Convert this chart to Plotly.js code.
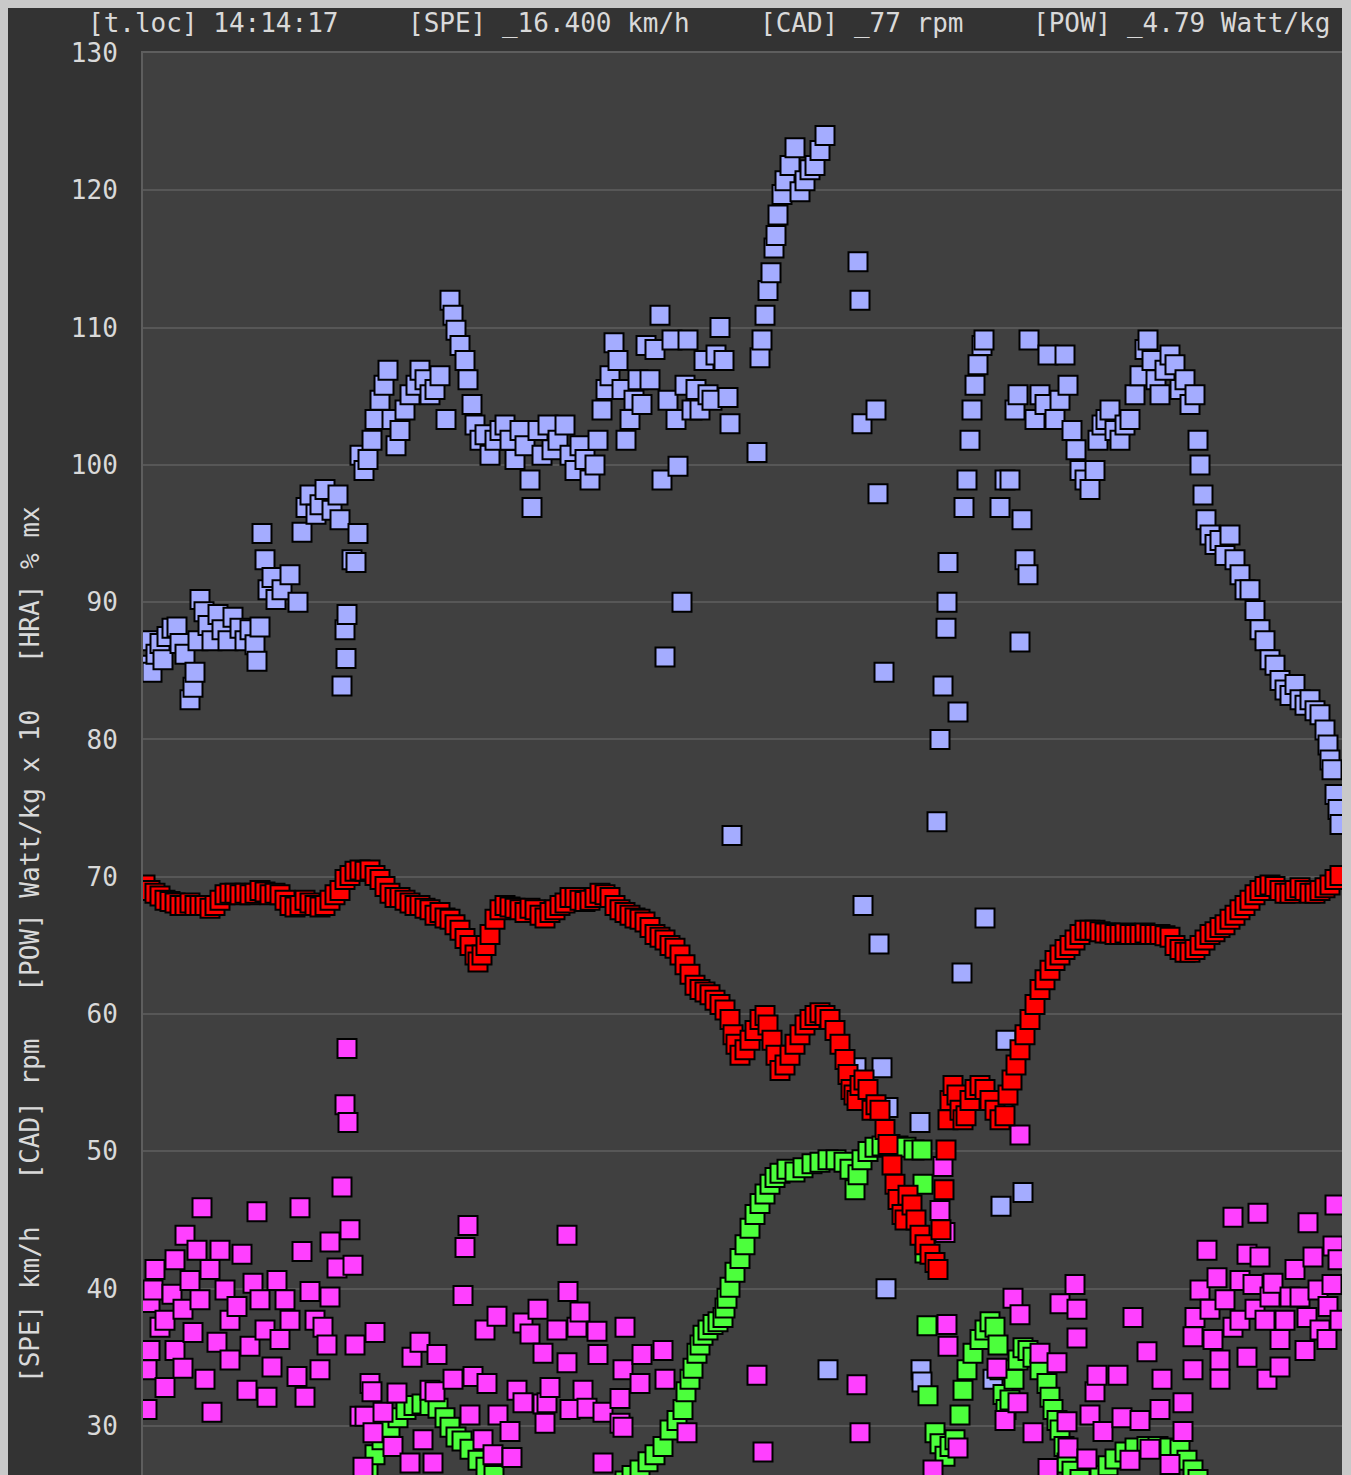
<!DOCTYPE html>
<html><head><meta charset="utf-8">
<script src="https://cdn.plot.ly/plotly-3.0.1.min.js"></script>
<style>
html,body{margin:0;padding:0;background:#c9c9c9;width:1351px;height:1475px;overflow:hidden;}
#chart{position:absolute;left:8px;top:8px;width:1334px;height:1467px;}
</style></head><body><div id="chart"></div>
<script>
// time in seconds (arbitrary origin), values in plotted units
const yTicks = [30,40,50,60,70,80,90,100,110,120,130];
const yTickText = ['30','40','50','60','70','80','90','100','110','120','130'];

const headerTexts = ['[t.loc] 14:14:17','[SPE] _16.400 km/h','[CAD] _77 rpm','[POW] _4.79 Watt/kg'];
const yTitleParts = ['[SPE] km/h','[CAD] rpm','[POW] Watt/kg x 10','[HRA] % mx'];

// HRA  (% of max heart rate)
const hraTime = [2,5,9,13,17,20,24,29,34,37,42,47,50,52,55,57,61,65,69,75,79,85,90,97,102,107,112,114,117,119,122,125,129,133,139,147,155,159,163,167,173,177,182,189,195,197,199,202,203,204,209,213,215,217,221,225,229,232,237,241,245,249,253,257,262,267,273,277,282,287,292,297,303,307,310,313,317,322,325,329,332,337,342,347,352,357,362,367,372,377,382,387,389,395,399,405,409,415,422,427,432,437,442,447,452,455,459,463,467,471,475,479,483,487,491,495,499,503,507,512,517,519,522,525,529,533,535,539,542,545,549,553,557,561,565,569,573,577,581,585,587,589,614,617,619,622,625,628,631,633,635,639,642,647,652,657,662,667,672,677,682,685,713,715,717,719,720,733,735,736,739,741,743,745,777,778,779,794,797,800,803,804,805,814,815,819,821,824,827,829,832,835,839,841,842,850,857,858,860,862,863,867,872,875,877,879,880,882,885,886,892,897,902,905,912,917,922,925,929,933,937,942,947,952,955,959,963,967,972,977,982,987,992,997,1002,1005,1009,1013,1017,1022,1027,1032,1037,1042,1047,1052,1055,1057,1060,1063,1067,1072,1077,1082,1087,1092,1097,1102,1107,1112,1117,1122,1127,1132,1137,1142,1147,1152,1157,1162,1167,1172,1177,1182,1185,1187,1189,1192,1195,1197];
const hraValue = [85.4,87.2,84.9,86.2,87.0,85.8,87.5,88.1,88.2,87.0,86.2,82.9,83.8,84.9,87.2,90.2,89.3,88.3,87.2,89.1,88.0,87.2,88.9,88.1,87.2,88.0,86.9,85.7,88.2,95.0,93.1,90.9,91.8,90.2,90.9,92.0,90.0,95.1,96.9,97.8,96.4,97.1,98.2,96.7,97.8,96.0,83.9,88.0,85.9,89.1,93.1,92.9,95.0,100.7,99.6,100.4,101.8,103.3,104.7,105.8,106.9,103.3,101.4,102.5,104.0,105.1,105.8,106.9,106.2,105.1,105.5,106.5,103.3,112.0,110.9,109.8,108.7,107.6,106.2,104.4,102.9,101.8,102.2,100.7,101.8,102.5,102.9,101.8,100.4,102.5,101.4,98.9,96.9,102.5,100.7,102.9,101.1,101.8,102.9,100.7,99.6,101.4,100.4,98.9,100.0,101.8,104.0,105.5,106.5,108.9,107.6,105.5,101.8,103.3,104.7,106.2,104.4,108.7,106.2,108.4,110.9,98.9,86.0,104.7,109.1,103.3,99.9,90.0,105.8,109.1,104.0,105.5,104.0,107.6,105.1,104.7,108.0,110.0,107.6,104.9,103.0,73.0,100.9,107.8,109.1,110.9,112.7,114.0,115.8,116.7,118.2,119.7,120.7,121.8,123.1,119.9,120.7,121.5,121.8,122.9,124.0,34.1,56.1,114.8,112.0,103.0,67.9,104.0,97.9,65.1,56.1,84.9,40.0,53.2,52.1,34.1,33.2,74.0,80.0,83.9,88.1,90.0,92.9,53.8,82.0,63.0,96.9,98.9,101.8,104.0,105.8,107.3,108.7,109.1,67.0,33.4,96.9,46.0,53.5,98.9,58.1,98.9,104.0,105.1,87.1,96.0,47.0,93.1,92.0,109.1,103.3,105.1,104.4,108.0,103.3,104.7,108.0,105.8,102.5,101.1,99.6,98.9,98.2,99.6,101.8,102.9,103.3,104.0,102.5,101.8,102.9,103.3,105.1,106.5,108.4,109.1,107.6,106.2,105.1,106.9,108.0,107.3,105.5,106.2,104.4,105.1,101.8,100.0,97.8,96.0,94.9,94.2,94.5,93.4,94.9,93.1,92.0,90.9,90.9,89.4,88.0,87.2,85.8,85.4,84.3,83.6,83.2,84.0,82.9,82.5,82.9,82.1,81.8,80.7,79.6,78.5,77.8,76.0,74.9,73.8];

// SPE (km/h)
const speTime = [225,232,239,247,255,263,271,279,287,295,302,307,313,319,327,335,343,351,357,482,489,497,505,512,520,527,534,540,543,547,550,554,557,560,565,570,575,580,582,584,587,592,597,602,607,612,617,622,627,632,637,644,652,660,669,677,685,693,701,707,712,715,719,725,732,739,747,755,763,771,779,780,782,784,785,792,797,802,807,812,817,820,824,830,837,842,847,852,855,857,860,863,867,871,875,880,885,890,897,904,907,910,914,917,921,924,929,937,957,965,972,982,992,1004,1015,1027,1037,1044,1050,1055];
const speValue = [26.8,27.9,29.0,29.9,30.6,31.2,31.5,31.6,31.5,31.3,30.6,29.9,29.2,28.9,28.3,27.5,27.0,26.4,25.4,26.0,26.4,26.8,27.4,27.9,28.5,29.7,30.4,31.2,32.5,33.4,34.2,35.3,35.9,36.6,37.0,37.4,37.6,37.9,38.6,39.3,40.1,41.2,42.2,43.2,44.4,45.4,46.2,46.9,47.6,48.1,48.4,48.7,48.5,48.8,49.1,49.2,49.4,49.4,49.2,48.7,47.2,48.3,49.4,50.0,50.3,50.4,50.5,50.4,50.3,50.1,50.1,47.6,42.6,37.3,32.2,29.5,28.7,27.8,28.5,29.0,30.8,32.6,34.1,35.3,36.3,37.0,37.6,37.2,35.9,34.1,32.3,31.2,31.9,33.4,34.8,35.7,35.5,35.0,34.1,33.1,32.1,31.2,30.4,29.7,28.5,27.3,26.7,26.1,26.4,27.1,27.6,28.1,28.4,28.5,28.5,28.4,28.3,27.5,26.8,26.1];

// CAD (rpm)
const cadTime = [4,4,7,7,10,12,17,22,22,29,32,32,40,40,42,47,50,54,57,59,62,67,69,74,77,82,87,87,94,99,104,107,110,114,117,122,124,129,134,137,142,147,154,157,159,162,167,172,177,180,184,187,187,194,199,202,204,205,207,210,212,217,220,222,227,229,230,232,240,250,254,267,269,277,280,287,290,292,294,310,320,322,325,327,330,340,342,344,350,354,355,367,369,374,380,380,387,395,400,400,402,404,407,414,424,424,425,427,434,437,440,444,454,455,460,460,477,477,480,480,482,497,499,520,522,544,614,620,714,717,790,797,800,802,804,805,815,854,862,870,875,877,877,890,897,905,914,917,924,925,932,934,934,944,947,952,954,960,975,979,987,990,997,1004,1007,1017,1019,1027,1040,1040,1050,1050,1052,1057,1064,1067,1070,1074,1077,1077,1082,1090,1090,1097,1097,1104,1104,1110,1112,1115,1117,1122,1124,1127,1130,1137,1137,1142,1147,1152,1157,1162,1164,1165,1170,1175,1177,1184,1185,1189,1190,1192,1195,1197];
const cadValue = [31.2,34.1,39.0,35.5,39.9,41.4,37.2,32.8,37.7,39.6,42.1,35.5,38.5,34.2,43.9,40.6,36.8,42.8,39.2,45.9,33.4,41.4,31.0,36.1,42.8,39.9,37.7,34.8,38.7,42.5,32.6,35.8,40.4,45.6,39.2,37.0,32.1,34.3,40.6,36.3,39.2,37.7,33.6,45.9,42.7,32.1,39.8,37.7,34.1,37.2,35.9,43.4,39.4,41.5,47.4,53.4,57.5,52.1,44.3,41.7,35.9,30.7,27.0,30.7,33.1,32.5,29.5,36.8,31.0,28.5,32.4,27.3,35.0,36.1,29.0,32.6,27.3,32.5,35.2,33.4,39.5,43.0,44.6,30.8,33.6,29.0,37.0,33.1,27.9,38.0,30.8,29.6,27.7,32.6,37.5,31.7,36.7,38.5,35.3,31.6,30.2,31.7,32.8,37.0,43.9,34.6,39.8,31.2,37.2,38.3,32.6,31.3,36.9,35.2,31.0,27.3,32.0,30.2,34.1,29.9,37.2,33.1,35.2,35.5,33.4,29.5,33.7,28.1,33.0,29.5,26.8,45.7,48.9,44.1,37.4,35.8,28.4,34.2,30.4,39.3,31.7,51.2,38.1,29.5,35.3,26.9,34.6,38.9,30.3,28.4,40.3,38.5,36.4,27.6,30.8,32.5,33.7,29.6,33.7,30.6,27.5,37.9,30.4,35.4,28.3,31.2,33.4,27.2,31.7,29.6,36.5,34.1,37.9,39.9,42.8,38.5,36.3,40.8,34.8,33.4,39.2,45.2,37.2,40.6,37.7,42.5,35.0,40.3,38.5,45.5,42.3,37.7,33.4,39.4,40.4,36.3,34.3,37.7,39.4,41.4,39.4,35.5,37.9,44.8,42.3,39.9,37.0,36.3,38.7,40.3,43.1,46.1,42.1,37.7];

// POW (Watt/kg x 10)
const powTime = [2,7,12,17,22,27,32,37,42,47,52,57,62,67,72,77,82,87,92,97,102,107,112,117,122,127,132,137,142,147,152,157,162,167,172,177,182,187,192,197,202,207,212,217,222,227,232,237,242,247,252,257,262,267,272,277,282,287,292,297,302,307,312,317,322,327,332,335,339,343,347,352,357,362,367,372,377,382,387,392,397,402,407,412,417,422,427,432,437,442,447,452,457,462,467,472,477,482,487,492,497,502,507,512,517,522,527,532,537,542,547,552,557,562,567,572,577,582,587,590,593,597,602,607,612,617,622,625,629,633,637,642,647,652,657,662,667,672,677,682,687,692,697,702,705,708,711,714,717,721,725,729,733,737,742,745,749,752,755,759,762,765,769,773,777,782,787,792,795,798,801,803,805,807,810,814,817,820,823,827,832,837,842,847,852,857,862,865,869,873,877,882,887,892,897,902,907,912,917,922,927,932,937,942,947,952,957,962,967,972,977,982,987,992,997,1002,1007,1012,1017,1022,1027,1032,1037,1042,1047,1052,1057,1062,1067,1072,1077,1082,1087,1092,1097,1102,1107,1112,1117,1122,1127,1132,1137,1142,1147,1152,1157,1162,1167,1172,1177,1182,1187,1192,1197];
const powValue = [69.4,69.0,68.8,68.6,68.3,68.2,68.1,67.9,67.9,68.1,67.9,67.9,67.9,67.7,67.9,68.3,68.7,68.8,68.8,68.7,68.8,68.7,68.8,69.0,68.9,68.7,68.8,68.7,68.3,67.9,67.8,67.9,68.3,68.1,67.9,67.8,67.9,68.3,68.7,69.0,69.8,70.1,70.4,70.5,70.4,70.5,70.1,69.8,69.3,68.8,68.5,68.5,68.3,68.1,67.9,67.9,67.7,67.6,67.2,67.4,67.0,66.9,66.5,66.1,65.5,65.0,64.3,63.8,64.3,65.0,65.8,66.9,67.6,67.9,67.8,67.7,67.6,67.4,67.7,67.6,67.2,67.0,67.4,67.6,67.9,68.1,68.5,68.5,68.3,68.2,68.3,68.5,68.8,68.7,68.5,67.9,67.6,67.4,67.2,67.0,66.9,66.7,66.3,65.8,65.6,65.4,65.0,64.8,64.3,63.6,62.9,62.1,61.8,61.6,61.4,61.0,60.7,60.3,59.6,58.5,57.8,57.0,57.4,58.1,58.8,59.6,59.9,59.2,58.1,57.0,55.9,56.3,57.0,57.8,58.5,59.2,59.6,59.9,60.1,59.9,59.6,58.8,57.8,56.7,55.6,54.5,54.1,53.7,54.8,55.2,54.5,53.0,53.4,53.0,51.6,50.5,49.0,47.6,46.5,45.4,45.0,46.8,46.1,45.0,43.9,43.2,42.5,41.9,41.4,44.3,47.2,50.1,52.3,53.7,54.8,54.1,53.0,52.3,52.6,53.7,54.5,54.8,54.5,53.7,53.0,52.3,52.6,54.1,55.2,56.3,57.4,58.5,59.6,60.7,61.8,62.5,63.2,63.9,64.3,64.7,65.0,65.4,65.8,66.1,66.1,66.1,66.0,65.9,65.9,65.8,65.8,65.9,65.8,65.8,65.8,65.9,65.8,65.8,65.8,65.7,65.6,65.0,64.7,64.5,64.5,64.7,65.0,65.4,65.8,66.0,66.3,66.5,66.9,67.2,67.6,67.9,68.3,68.7,69.0,69.3,69.4,69.3,69.0,68.8,68.8,69.0,69.2,69.0,68.8,68.8,69.0,69.2,69.4,69.8,70.1];

const colors = {hra:'#a4acff', spe:'#4cff3c', cad:'#ff40ff', pow:'#ff0000'};

function ordered(t, v){
  const idx = t.map((_, i) => i).sort((a, b) => (t[a] - t[b]) || (a - b));
  return {x: idx.map(i => t[i]), y: idx.map(i => v[i])};
}
function trace(name, t, v, color){
  const s = ordered(t, v);
  return {type:'scatter', mode:'markers', name:name, x:s.x, y:s.y, cliponaxis:true, hoverinfo:'skip',
    marker:{symbol:'square', size:19, color:color, line:{color:'#000000', width:2}}};
}

const data = [
  trace('HRA', hraTime, hraValue, colors.hra),
  trace('SPE', speTime, speValue, colors.spe),
  trace('CAD', cadTime, cadValue, colors.cad),
  trace('POW', powTime, powValue, colors.pow)
];

const FONT = 'DejaVu Sans Mono, Liberation Mono, monospace';
const TXT = '#d9d9d9';
const nb = '\u00a0\u00a0\u00a0';

const plotW = 1199, plotH = 1422, offX = 143, bottomY = 1475;
function px2paperX(p){ return (p - offX) / plotW; }
function py2paperY(p){ return (bottomY - p) / plotH; }

const headerX = [86, 406, 758, 1031];
const annotations = headerTexts.map((t, i) => ({
  text: t, xref:'paper', yref:'paper', x: px2paperX(headerX[i]), y: py2paperY(23),
  xanchor:'left', yanchor:'middle', showarrow:false, font:{family:FONT, size:26, color:TXT}
}));
annotations.push({
  text: yTitleParts.join(nb).replace(/ /g,'\u00a0'), xref:'paper', yref:'paper',
  x: px2paperX(30), y: py2paperY(945), xanchor:'center', yanchor:'middle', textangle:-90,
  showarrow:false, font:{family:FONT, size:26, color:TXT}
});

const layout = {
  width:1334, height:1467,
  margin:{l:135, r:0, t:45, b:0, pad:0},
  paper_bgcolor:'#333333', plot_bgcolor:'#404040',
  showlegend:false, hovermode:false,
  xaxis:{range:[0,1199], side:'top', showgrid:false, zeroline:false, showticklabels:false, ticks:'',
         showline:true, linecolor:'#5e5e5e', linewidth:2, fixedrange:true},
  yaxis:{range:[26.43,130], tickmode:'array', tickvals:yTicks, ticktext:yTickText,
         showgrid:true, gridcolor:'#575757', gridwidth:2, zeroline:false,
         showline:true, linecolor:'#5e5e5e', linewidth:2,
         ticks:'outside', ticklen:18, tickwidth:0, tickcolor:'rgba(0,0,0,0)',
         tickfont:{family:FONT, size:26, color:TXT}, fixedrange:true},
  annotations: annotations
};

Plotly.newPlot('chart', data, layout, {staticPlot:true, displayModeBar:false});
</script></body></html>
